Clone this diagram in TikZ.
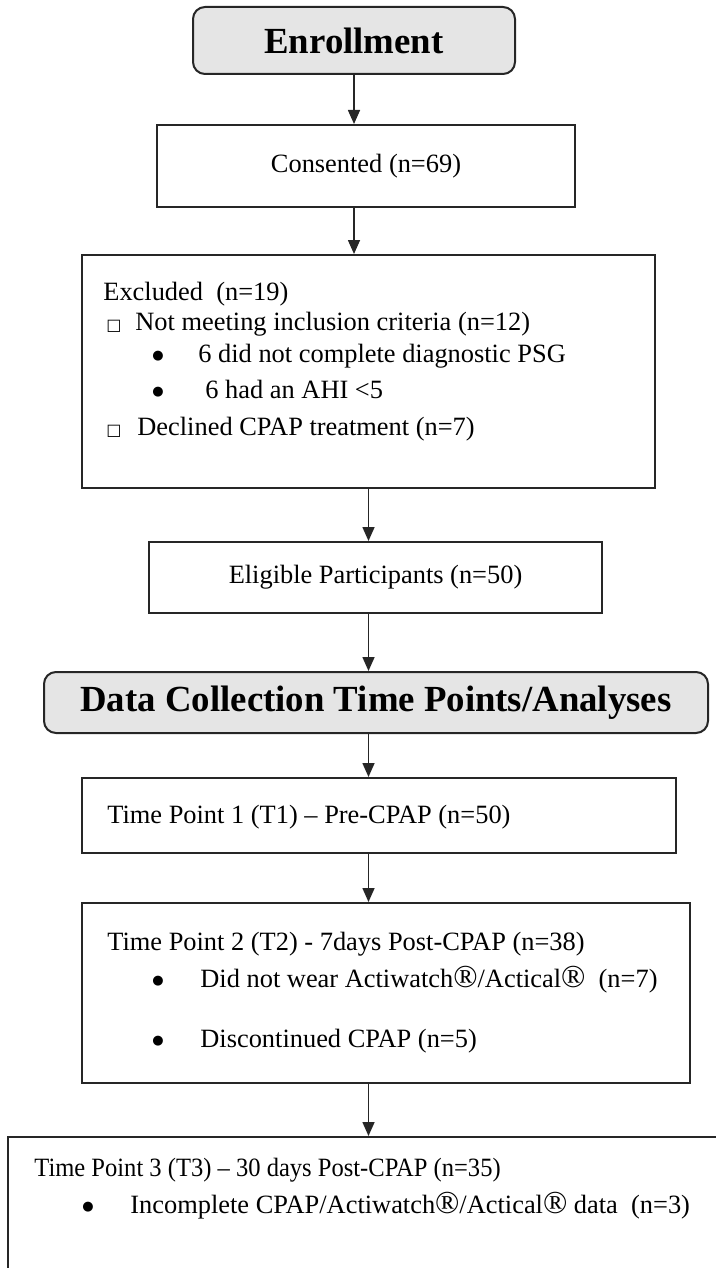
\documentclass[tikz,border=0pt]{standalone}
\usepackage{fontspec}
\usepackage{graphicx}
\setmainfont{Liberation Serif}
\newfontfamily\symfont{DejaVu Sans}
\newcommand{\regmark}{{\fontsize{16}{16}\selectfont ®}}
\newcommand{\bul}{\raisebox{1.5pt}{\symfont\fontsize{6.5}{7}\selectfont ●}}
\newcommand{\sqmark}{{\symfont\fontsize{8}{8}\selectfont □}}
\usetikzlibrary{arrows.meta,positioning}

\begin{document}
\begin{tikzpicture}[x=0.5pt,y=-0.5pt,
  every node/.style={font=\fontsize{13.2}{15}\selectfont,inner sep=0pt},
  box/.style={draw=black!85,line width=1pt},
  head/.style={draw=black!85,line width=1pt,rounded corners=6pt,fill=gray!20,font=\fontsize{18.4}{20}\selectfont\bfseries},
  txt/.style={anchor=base west},
  arr/.style={draw=black!85,line width=0.8pt,-{Triangle[width=6pt,length=7pt]}}]
\useasboundingbox (0,0) rectangle (716,1268);
\clip (0,0) rectangle (716,1268);

\node[head,minimum width=161pt,minimum height=33.5pt] (enr) at (354,40.5) {Enrollment};
\node[box,minimum width=209pt,minimum height=41pt] (cons) at (366,166) {Consented (n=69)};

% excluded
\node[box,minimum width=286.5pt,minimum height=116.5pt] (excl) at (368.5,371.5) {};
\node[txt] (exh) at (103,300) {Excluded\ \ (n=19)};
\node[txt] (exs1) at (106,330) {\sqmark};
\node[txt] (ext1) at (135,330) {Not meeting inclusion criteria (n=12)};
\node[txt] (exb1) at (152,362) {\bul};
\node[txt] (ext2) at (198,362) {6 did not complete diagnostic PSG};
\node[txt] (exb2) at (152,398) {\bul};
\node[txt] (ext3) at (205,398) {6 had an AHI <5};
\node[txt] (exs2) at (106,435) {\sqmark};
\node[txt] (ext4) at (137,435) {Declined CPAP treatment (n=7)};

\node[box,minimum width=226.5pt,minimum height=35.5pt] (elig) at (375.5,577.5) {Eligible Participants (n=50)};
\node[head,minimum width=332pt,minimum height=30.5pt] (dc) at (376,702.5) {Data Collection Time Points/Analyses};

% time points
\node[box,minimum width=297pt,minimum height=37.5pt] (tp1) at (379,815.5) {};
\node[txt] (tp1t) at (107,823) {Time Point 1 (T1) -- Pre-CPAP (n=50)};

\node[box,minimum width=304pt,minimum height=90pt] (tp2) at (386,993) {};
\node[txt] (tp2t) at (107,950) {Time Point 2 (T2) - 7days Post-CPAP (n=38)};
\node[txt] (tp2b1) at (152,987) {\bul};
\node[txt] (tp2t1) at (200,987) {Did not wear Actiwatch\regmark/Actical\regmark\ \ (n=7)};
\node[txt] (tp2b2) at (152,1047) {\bul};
\node[txt] (tp2t2) at (200,1047) {Discontinued CPAP (n=5)};

\node[box,minimum width=366pt,minimum height=91.5pt] (tp3) at (374,1228.5) {};
\node[txt] (tp3t) at (34,1176) {\scalebox{0.93}[1]{Time Point 3 (T3) -- 30 days Post-CPAP (n=35)}};
\node[txt] (tp3b1) at (82,1213) {\bul};
\node[txt] (tp3t1) at (130,1213) {Incomplete CPAP/Actiwatch\regmark/Actical\regmark{} data\ \ (n=3)};

\draw[arr] (enr.south) -- (enr.south |- cons.north);
\draw[arr] (enr.south |- cons.south) -- (enr.south |- excl.north);
\draw[arr] (excl.south) -- (excl.south |- elig.north);
\draw[arr] (excl.south |- elig.south) -- (excl.south |- dc.north);
\draw[arr] (excl.south |- dc.south) -- (excl.south |- tp1.north);
\draw[arr] (excl.south |- tp1.south) -- (excl.south |- tp2.north);
\draw[arr] (excl.south |- tp2.south) -- (excl.south |- tp3.north);
\end{tikzpicture}
\end{document}
